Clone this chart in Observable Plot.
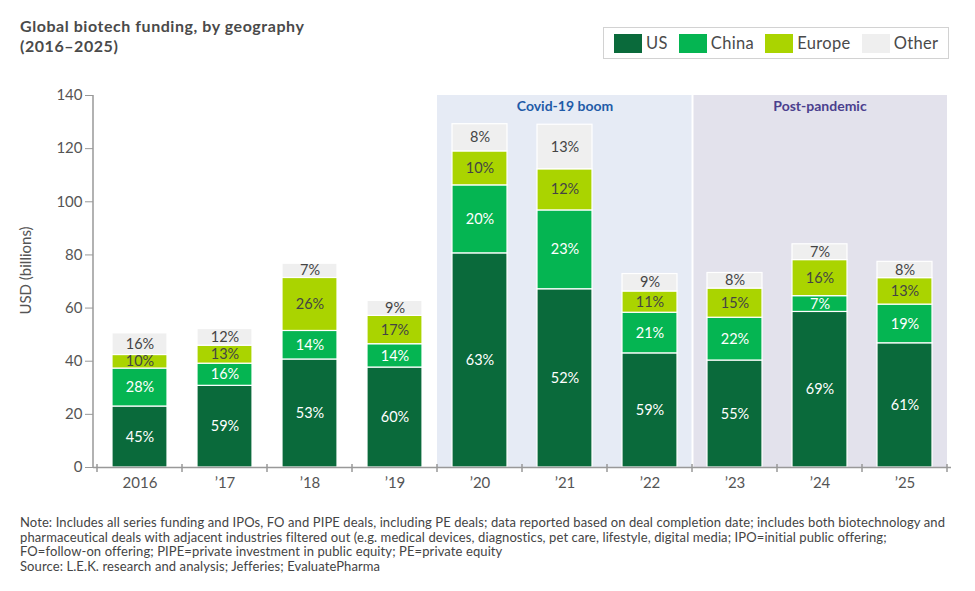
<!DOCTYPE html>
<html>
<head>
<meta charset="utf-8">
<script src="https://cdn.jsdelivr.net/npm/d3@7"></script>
<script src="https://cdn.jsdelivr.net/npm/@observablehq/plot@0.6"></script>
<style>
  body { margin: 0; background: #fff; font-family: Lato, "Open Sans", sans-serif; }
  #page { position: relative; width: 975px; height: 591px; overflow: hidden; }
  #title { position: absolute; left: 20px; top: 16px; font-weight: 700; font-size: 16px; letter-spacing: 0.55px; line-height: 20px; color: #4a4a4a; }
  #legend { position: absolute; left: 603px; top: 27px; height: 30px; border: 1px solid #d2d2d2;
            display: flex; align-items: center; padding: 0 10px; }
  #legend .item { display: flex; align-items: center; margin-right: 11px; font-size: 16.5px; letter-spacing: 0.35px; color: #4a4a4a; }
  #legend .item:last-child { margin-right: 0; }
  #legend .sw { width: 28px; height: 19px; margin-right: 4px; }
  #chart { position: absolute; left: 0; top: 60px; }
  #note { position: absolute; left: 20px; top: 515px; font-size: 13px; letter-spacing: 0.1px; line-height: 14.7px; color: #444; white-space: nowrap; }
</style>
</head>
<body>
<div id="page">
  <div id="title">Global biotech funding, by geography<br>(2016–2025)</div>
  <div id="legend"></div>
  <div id="chart"></div>
  <div id="note">Note: Includes all series funding and IPOs, FO and PIPE deals, including PE deals; data reported based on deal completion date; includes both biotechnology and<br>pharmaceutical deals with adjacent industries filtered out (e.g. medical devices, diagnostics, pet care, lifestyle, digital media; IPO=initial public offering;<br>FO=follow-on offering; PIPE=private investment in public equity; PE=private equity<br>Source: L.E.K. research and analysis; Jefferies; EvaluatePharma</div>
</div>
<script>
// Funding years and total funding per year (USD billions)
const years = ["2016", "’17", "’18", "’19", "’20", "’21", "’22", "’23", "’24", "’25"];
const totals = [50.5, 52.1, 76.7, 62.7, 129.2, 129.0, 72.8, 73.2, 84.0, 77.4];

// Share of each year's funding by geography (%)
const regions = ["US", "China", "Europe", "Other"];
const usPct     = [45, 59, 53, 60, 63, 52, 59, 55, 69, 61];
const chinaPct  = [28, 16, 14, 14, 20, 23, 21, 22,  7, 19];
const europePct = [10, 13, 26, 17, 10, 12, 11, 15, 16, 13];
const otherPct  = [16, 12,  7,  9,  8, 13,  9,  8,  7,  8];
const regionColors = ["#0a6a3b", "#05b552", "#aad400", "#efefef"];

const yTicks = [0, 20, 40, 60, 80, 100, 120, 140];

// Highlighted periods
const periods = [
  {label: "Covid-19 boom", from: "’20", mid: "’21", to: "’22", fill: "#e6ebf5", color: "#1f5ba8"},
  {label: "Post-pandemic", from: "’23", mid: "’24", to: "’25", fill: "#e3e2ec", color: "#4b3f8e"}
];

// Stack each year's shares into billions
const shares = {US: usPct, China: chinaPct, Europe: europePct, Other: otherPct};
const rows = [];
years.forEach((year, i) => {
  const sum = regions.reduce((s, r) => s + shares[r][i], 0);
  let base = 0;
  for (const r of regions) {
    const value = totals[i] * shares[r][i] / sum;
    rows.push({year, region: r, pct: shares[r][i], y1: base, y2: base + value});
    base += value;
  }
});
const lightText = rows.filter(d => d.region === "US" || d.region === "China");
const darkText = rows.filter(d => d.region === "Europe" || d.region === "Other");
const mid = d => (d.y1 + d.y2) / 2;
const pctText = d => d.pct + "%";

// Legend
const legend = document.getElementById("legend");
regions.forEach((r, i) => {
  const item = document.createElement("div");
  item.className = "item";
  item.innerHTML = `<span class="sw" style="background:${regionColors[i]}"></span><span>${r}</span>`;
  legend.appendChild(item);
});

const plot = Plot.plot({
  width: 975,
  height: 440,
  marginTop: 35,
  marginBottom: 33,
  marginLeft: 93,
  marginRight: 24,
  style: {fontFamily: "Lato, 'Open Sans', sans-serif", fontSize: "14px", color: "#555", background: "transparent", overflow: "visible"},
  x: {domain: years, paddingInner: 0.35, paddingOuter: 0.175, axis: null},
  y: {domain: [0, 140], axis: null},
  color: {domain: regions, range: regionColors},
  marks: [
    Plot.axisY({ticks: yTicks, tickSize: 8, tickPadding: 3, fontSize: 15, stroke: "#999", fill: "#555", label: null}),
    Plot.axisX({tickSize: 0, tickPadding: 10, fontSize: 15, fill: "#555", label: null}),
    Plot.text(periods, {x: "mid", y: () => 140, text: "label", fill: "color", dy: 11, fontSize: 14, fontWeight: 700}),
    Plot.barY(rows, {x: "year", y1: "y1", y2: "y2", fill: "region", stroke: "white", strokeWidth: 1.2}),
    Plot.text(lightText, {x: "year", y: mid, text: pctText, fill: "white", fontSize: 14.5}),
    Plot.text(darkText, {x: "year", y: mid, text: pctText, fill: "#444", fontSize: 14.5}),
    Plot.text(["USD (billions)"], {frameAnchor: "left", textAnchor: "middle", rotate: -90, dx: -67, dy: -11, fontSize: 15, fill: "#555"}),
    Plot.ruleY([0], {stroke: "#999", strokeWidth: 1.5})
  ]
});

// Period backgrounds, y-axis line and category boundary ticks, drawn from the plot's scales
const xs = plot.scale("x");
const ys = plot.scale("y");
const step = xs.step;
const gap = (step - xs.bandwidth) / 2;
const boundary = y => xs.apply(y) - gap;
const svg = d3.select(plot);
const bg = svg.append("g");
const y140 = ys.apply(140), y0 = ys.apply(0);
periods.forEach((p, i) => {
  const x1 = boundary(p.from) + (i === 0 ? 0 : 1.5);
  const x2 = boundary(p.to) + step - (i === 0 ? 0.5 : 0);
  bg.append("rect").attr("x", x1).attr("y", y140).attr("width", x2 - x1).attr("height", y0 - y140).attr("fill", p.fill);
});
// periods sit beneath everything else
plot.insertBefore(bg.node(), plot.querySelector("style").nextSibling);

const axes = svg.append("g").attr("stroke", "#999").attr("stroke-width", 1.5);
axes.append("line").attr("x1", xs.range[0]).attr("x2", xs.range[0]).attr("y1", y140).attr("y2", y0);
years.forEach(y => {
  const x = boundary(y);
  axes.append("line").attr("x1", x).attr("x2", x).attr("y1", y0 - 3).attr("y2", y0 + 5);
});
const xEnd = boundary(years[years.length - 1]) + step;
axes.append("line").attr("x1", xEnd).attr("x2", xEnd).attr("y1", y0 - 3).attr("y2", y0 + 5);

document.getElementById("chart").appendChild(plot);
</script>
</body>
</html>
